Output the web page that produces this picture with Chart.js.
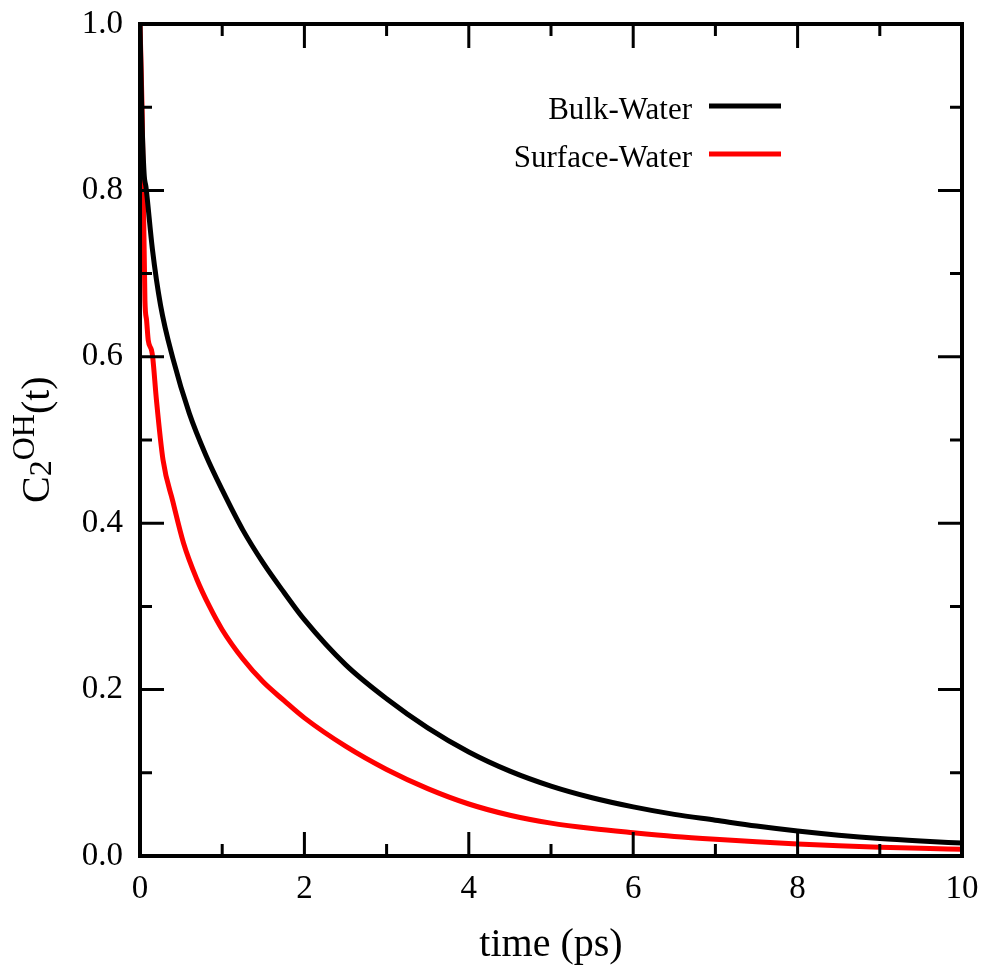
<!DOCTYPE html>
<html>
<head>
<meta charset="utf-8">
<script src="https://cdn.jsdelivr.net/npm/chart.js@4/dist/chart.umd.min.js"></script>
<style>
  html, body { margin: 0; padding: 0; background: #fff; }
  #c { display: block; }
</style>
</head>
<body>
<canvas id="c" width="988" height="971"></canvas>
<script>
// ---------------- data ----------------
const bulkTime = [0, 0.02, 0.05, 0.073, 0.15, 0.25, 0.4, 0.6, 0.8, 1.0, 1.25, 1.5, 1.75, 2.0, 2.5, 3.0, 3.5, 4.0, 4.5, 5.0, 5.5, 6.0, 6.5, 7.0, 7.5, 8.0, 8.5, 9.0, 9.5, 10];
const bulkC2 = [1.0, 0.90, 0.82, 0.804, 0.73, 0.662, 0.598, 0.532, 0.482, 0.440, 0.392, 0.352, 0.317, 0.284, 0.230, 0.189, 0.154, 0.125, 0.102, 0.084, 0.070, 0.059, 0.050, 0.043, 0.036, 0.030, 0.025, 0.021, 0.018, 0.0155];

const surfTime = [0, 0.025, 0.04, 0.06, 0.08, 0.10, 0.14, 0.154, 0.20, 0.28, 0.40, 0.53, 0.69, 0.85, 1.0, 1.25, 1.5, 1.75, 2.0, 2.5, 3.0, 3.5, 4.0, 4.5, 5.0, 5.5, 6.0, 6.5, 7.0, 7.5, 8.0, 8.5, 9.0, 9.5, 10];
const surfC2 = [1.0, 0.90, 0.804, 0.668, 0.644, 0.620, 0.608, 0.600, 0.548, 0.476, 0.426, 0.376, 0.333, 0.299, 0.272, 0.237, 0.209, 0.187, 0.166, 0.132, 0.104, 0.081, 0.0625, 0.049, 0.0395, 0.033, 0.028, 0.0235, 0.020, 0.017, 0.0144, 0.0123, 0.0105, 0.0092, 0.008];

const seriesNames = ['Bulk-Water', 'Surface-Water'];
const seriesColors = ['#000000', '#ff0000'];

const xTicks = [0, 2, 4, 6, 8, 10];
const xMinor = [1, 3, 5, 7, 9];
const yTicks = [0, 0.2, 0.4, 0.6, 0.8, 1.0];
const yMinor = [0.1, 0.3, 0.5, 0.7, 0.9];

const serif = '"Liberation Serif", "DejaVu Serif", serif';

function toPoints(xs, ys) {
    return xs.map((x, i) => ({ x: x, y: ys[i] }));
}

// frame, inside ticks, legend and the y title (with sub/superscript)
const gnuFrame = {
    id: 'gnuFrame',
    afterDraw(chart) {
        const ctx = chart.ctx;
        const a = chart.chartArea;
        const xs = chart.scales.x, ys = chart.scales.y;
        const major = 24, minor = 12;
        ctx.save();
        ctx.strokeStyle = '#000';
        ctx.lineWidth = 3;
        ctx.beginPath();
        function xt(v, len) {
            const px = xs.getPixelForValue(v);
            ctx.moveTo(px, a.bottom); ctx.lineTo(px, a.bottom - len);
            ctx.moveTo(px, a.top); ctx.lineTo(px, a.top + len);
        }
        function yt(v, len) {
            const py = ys.getPixelForValue(v);
            ctx.moveTo(a.left, py); ctx.lineTo(a.left + len, py);
            ctx.moveTo(a.right, py); ctx.lineTo(a.right - len, py);
        }
        xTicks.forEach(v => xt(v, major));
        xMinor.forEach(v => xt(v, minor));
        yTicks.forEach(v => yt(v, major));
        yMinor.forEach(v => yt(v, minor));
        ctx.stroke();

        ctx.lineWidth = 4;
        ctx.strokeRect(a.left, a.top, a.right - a.left, a.bottom - a.top);

        // legend
        ctx.font = '31px ' + serif;
        ctx.textAlign = 'right';
        ctx.textBaseline = 'alphabetic';
        const legY = [106, 154];
        seriesNames.forEach((name, i) => {
            ctx.fillStyle = '#000';
            ctx.fillText(name, 692, legY[i] + 13);
            ctx.strokeStyle = seriesColors[i];
            ctx.lineWidth = 5;
            ctx.beginPath();
            ctx.moveTo(709, legY[i]);
            ctx.lineTo(781, legY[i]);
            ctx.stroke();
        });

        // y title: C_2^{OH}(t)
        ctx.translate(49, 503);
        ctx.rotate(-Math.PI / 2);
        ctx.textAlign = 'left';
        ctx.fillStyle = '#000';
        let x = 0;
        const parts = [
            { t: 'C', size: 40, dy: 0 },
            { t: '2', size: 32, dy: 2 },
            { t: 'OH', size: 32, dy: -15 },
            { t: '(t)', size: 40, dy: 0 }
        ];
        parts.forEach(p => {
            ctx.font = p.size + 'px ' + serif;
            ctx.fillText(p.t, x, p.dy);
            x += ctx.measureText(p.t).width;
        });
        ctx.restore();
    }
};

const ctx = document.getElementById('c').getContext('2d');
const chart = new Chart(ctx, {
    type: 'line',
    data: {
        datasets: [
            {
                label: seriesNames[0],
                data: toPoints(bulkTime, bulkC2),
                borderColor: seriesColors[0],
                borderWidth: 5,
                pointRadius: 0,
                cubicInterpolationMode: 'monotone',
                fill: false
            },
            {
                label: seriesNames[1],
                data: toPoints(surfTime, surfC2),
                borderColor: seriesColors[1],
                borderWidth: 5,
                pointRadius: 0,
                cubicInterpolationMode: 'monotone',
                fill: false
            }
        ]
    },
    options: {
        responsive: false,
        animation: false,
        devicePixelRatio: 1,
        layout: { padding: { top: 24, right: 26, left: 0, bottom: 0 } },
        plugins: {
            legend: { display: false },
            tooltip: { enabled: false }
        },
        scales: {
            x: {
                type: 'linear',
                min: 0,
                max: 10,
                afterBuildTicks: s => { s.ticks = xTicks.map(v => ({ value: v })); },
                afterFit: s => { s.height = 115; s.paddingLeft = 0; s.paddingRight = 0; },
                grid: { display: false, drawTicks: false },
                border: { display: false },
                ticks: {
                    padding: 14,
                    color: '#000',
                    autoSkip: false,
                    maxRotation: 0,
                    font: { family: serif, size: 33 },
                    callback: v => String(v)
                },
                title: {
                    display: true,
                    text: 'time (ps)',
                    color: '#000',
                    font: { family: serif, size: 40 },
                    padding: { top: 0, bottom: 2 }
                }
            },
            y: {
                type: 'linear',
                min: 0,
                max: 1,
                afterBuildTicks: s => { s.ticks = yTicks.map(v => ({ value: v })); },
                afterFit: s => { s.width = 140; s.paddingTop = 0; s.paddingBottom = 0; },
                grid: { display: false, drawTicks: false },
                border: { display: false },
                ticks: {
                    padding: 17,
                    color: '#000',
                    autoSkip: false,
                    font: { family: serif, size: 33 },
                    callback: v => v.toFixed(1)
                }
            }
        }
    },
    plugins: [gnuFrame]
});
</script>
</body>
</html>
